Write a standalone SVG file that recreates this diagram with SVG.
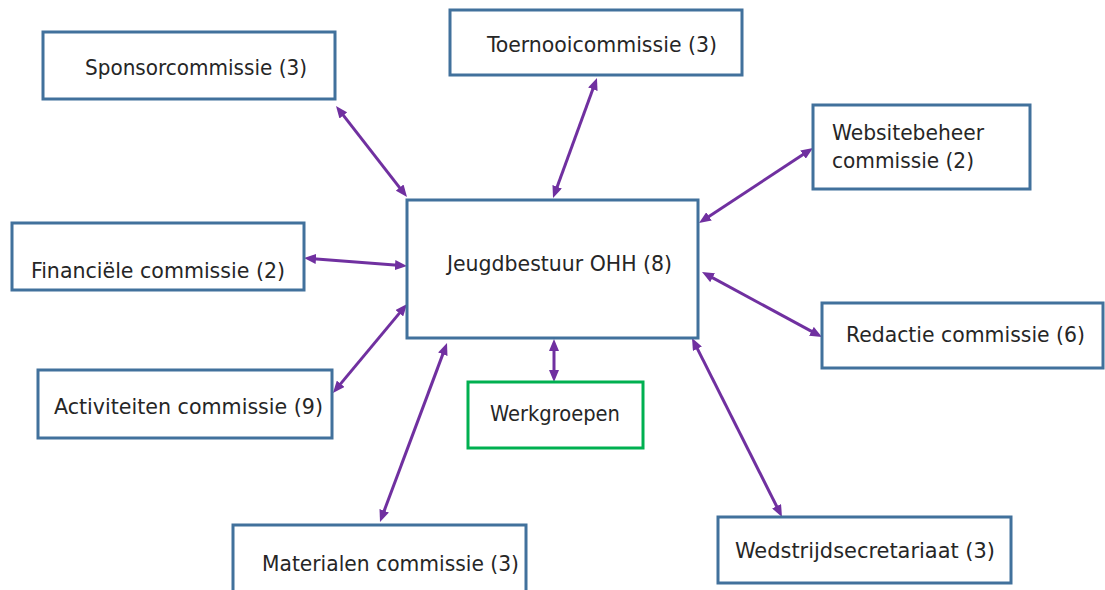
<svg xmlns="http://www.w3.org/2000/svg" width="1105" height="590" viewBox="0 0 1105 590">
<style>
.box{fill:#fff;stroke:#41719C;stroke-width:3}
.green{fill:#fff;stroke:#00B050;stroke-width:3}
.t{font-family:"DejaVu Sans Condensed","DejaVu Sans",sans-serif;font-size:22px;fill:#262626}
.c{stroke:#7030A0;stroke-width:3;fill:none;marker-start:url(#ah);marker-end:url(#ah)}
</style>
<defs>
<marker id="ah" viewBox="0 0 12 10" refX="6" refY="5" markerWidth="12" markerHeight="10" markerUnits="userSpaceOnUse" orient="auto-start-reverse">
<path d="M0,0 L12,5 L0,10 z" fill="#7030A0"/>
</marker>
</defs>
<rect width="1105" height="590" fill="#fff"/>
<g id="connectors">
<line class="c" x1="339.7" y1="110.7" x2="403.3" y2="192.3"/>
<line class="c" x1="594.9" y1="83.6" x2="555.1" y2="192.4"/>
<line class="c" x1="808" y1="151.3" x2="704" y2="219.7"/>
<line class="c" x1="707.3" y1="274.9" x2="816.7" y2="334.1"/>
<line class="c" x1="694.7" y1="343.4" x2="779.3" y2="511.6"/>
<line class="c" x1="554" y1="345" x2="554" y2="376"/>
<line class="c" x1="310" y1="258.5" x2="401" y2="265.5"/>
<line class="c" x1="336.8" y1="388.4" x2="403.2" y2="308.6"/>
<line class="c" x1="444.9" y1="348.6" x2="382.1" y2="516.4"/>
</g>
<g id="jeugdbestuur">
<rect class="box" x="407" y="200" width="291" height="138"/>
<text class="t" x="447" y="271" textLength="225" lengthAdjust="spacingAndGlyphs">Jeugdbestuur OHH (8)</text>
</g>
<g id="sponsor">
<rect class="box" x="43" y="32" width="292" height="67"/>
<text class="t" x="85" y="75" textLength="222" lengthAdjust="spacingAndGlyphs">Sponsorcommissie (3)</text>
</g>
<g id="toernooi">
<rect class="box" x="450" y="10" width="292" height="65"/>
<text class="t" x="487" y="52" textLength="230" lengthAdjust="spacingAndGlyphs">Toernooicommissie (3)</text>
</g>
<g id="website">
<rect class="box" x="813" y="105" width="217" height="84"/>
<text class="t" x="832" y="140" textLength="152" lengthAdjust="spacingAndGlyphs">Websitebeheer</text>
<text class="t" x="832" y="168" textLength="142" lengthAdjust="spacingAndGlyphs">commissie (2)</text>
</g>
<g id="financieel">
<rect class="box" x="12" y="223" width="292" height="67"/>
<text class="t" x="31" y="278" textLength="254" lengthAdjust="spacingAndGlyphs">Financiële commissie (2)</text>
</g>
<g id="redactie">
<rect class="box" x="822" y="303" width="281" height="65"/>
<text class="t" x="846" y="342" textLength="239" lengthAdjust="spacingAndGlyphs">Redactie commissie (6)</text>
</g>
<g id="activiteiten">
<rect class="box" x="38" y="370" width="294" height="68"/>
<text class="t" x="54" y="414" textLength="269" lengthAdjust="spacingAndGlyphs">Activiteiten commissie (9)</text>
</g>
<g id="werkgroepen">
<rect class="green" x="468" y="382" width="175" height="66"/>
<text class="t" x="490" y="421" textLength="130" lengthAdjust="spacingAndGlyphs">Werkgroepen</text>
</g>
<g id="materialen">
<rect class="box" x="233" y="525" width="293" height="80"/>
<text class="t" x="262" y="571" textLength="257" lengthAdjust="spacingAndGlyphs">Materialen commissie (3)</text>
</g>
<g id="wedstrijd">
<rect class="box" x="718" y="517" width="293" height="66"/>
<text class="t" x="735" y="558" textLength="260" lengthAdjust="spacingAndGlyphs">Wedstrijdsecretariaat (3)</text>
</g>
</svg>
